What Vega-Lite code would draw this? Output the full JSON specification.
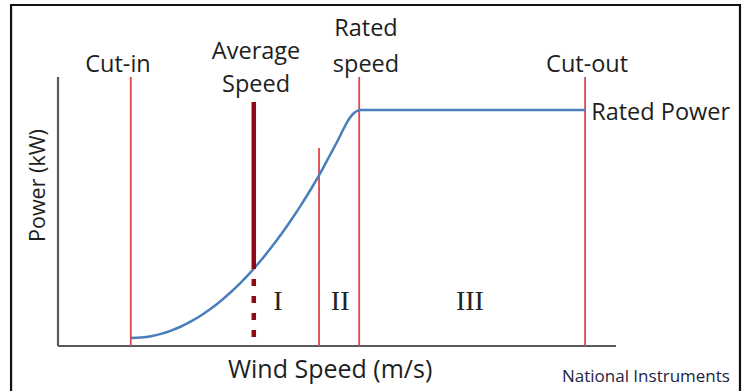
{
  "$schema": "https://vega.github.io/schema/vega-lite/v6.json",
  "width": 746,
  "height": 391,
  "autosize": "none",
  "padding": 0,
  "background": "white",
  "config": {"view": {"stroke": null}},
  "datasets": {
    "curve": [
      {"v": 2.908, "p": 67.8}, {"v": 3.307, "p": 72.0}, {"v": 3.705, "p": 83.1}, {"v": 4.104, "p": 102.5},
      {"v": 4.502, "p": 130.5}, {"v": 4.9, "p": 165.3}, {"v": 5.299, "p": 208.5}, {"v": 5.697, "p": 258.5},
      {"v": 6.096, "p": 316.9}, {"v": 6.494, "p": 383.9}, {"v": 6.892, "p": 457.6}, {"v": 7.291, "p": 539.8},
      {"v": 7.689, "p": 628.8}, {"v": 8.088, "p": 726.3}, {"v": 8.486, "p": 832.2}, {"v": 8.884, "p": 944.9},
      {"v": 9.283, "p": 1066.1}, {"v": 9.681, "p": 1194.1}, {"v": 10.08, "p": 1330.5}, {"v": 10.438, "p": 1460.2},
      {"v": 10.837, "p": 1618.6}, {"v": 11.155, "p": 1745.8}, {"v": 11.394, "p": 1847.5}, {"v": 11.594, "p": 1923.7},
      {"v": 11.753, "p": 1966.1}, {"v": 11.912, "p": 1991.5}, {"v": 12.072, "p": 2000}, {"v": 12.43, "p": 2000},
      {"v": 21.0, "p": 2000}
    ],
    "limits": [
      {"name": "Cut-in", "v": 2.9, "p": 0, "p2": 2280},
      {"name": "Region boundary", "v": 10.4, "p": 0, "p2": 1678},
      {"name": "Rated speed", "v": 12.0, "p": 0, "p2": 2280},
      {"name": "Cut-out", "v": 21.0, "p": 0, "p2": 2280}
    ],
    "axes": [
      {"v": 0, "v2": 0, "p": 0, "p2": 2280},
      {"v": 0, "v2": 22.23, "p": 0, "p2": 0}
    ],
    "frame": [{"v": -1.87, "v2": 27.17, "p": 2890, "p2": -458}],
    "avgSolid": [{"v": 7.8, "p": 2068, "p2": 653}],
    "avgDashed": [{"v": 7.8, "p": 653, "p2": 0}],
    "labels": [
      {"text": "Cut-in", "v": 2.39, "p": 2322},
      {"text": "Average", "v": 7.89, "p": 2432},
      {"text": "Speed", "v": 7.89, "p": 2153},
      {"text": "Rated", "v": 12.27, "p": 2627},
      {"text": "speed", "v": 12.27, "p": 2322},
      {"text": "Cut-out", "v": 21.08, "p": 2322}
    ],
    "ratedPower": [{"text": "Rated Power", "v": 21.24, "p": 1915}],
    "regions": [
      {"text": "I", "v": 8.76, "p": 305},
      {"text": "II", "v": 11.24, "p": 305},
      {"text": "III", "v": 16.41, "p": 305}
    ],
    "xTitle": [{"text": "Wind Speed (m/s)", "v": 10.84, "p": -271}],
    "yTitle": [{"text": "Power (kW)", "v": -0.52, "p": 1360}],
    "credit": [{"text": "National Instruments", "v": 26.77, "p": -305}]
  },
  "encoding": {
    "x": {"field": "v", "type": "quantitative", "scale": {"domain": [-2.311, 27.41], "nice": false, "zero": false}, "axis": null},
    "y": {"field": "p", "type": "quantitative", "scale": {"domain": [-381.4, 2932.2], "nice": false, "zero": false}, "axis": null}
  },
  "layer": [
    {
      "data": {"name": "frame"},
      "mark": {"type": "rect", "fill": "white", "fillOpacity": 0, "stroke": "#111111", "strokeWidth": 2.2},
      "encoding": {"x2": {"field": "v2"}, "y2": {"field": "p2"}}
    },
    {
      "data": {"name": "axes"},
      "mark": {"type": "rule", "color": "#5a5a5a", "strokeWidth": 2.2},
      "encoding": {"x2": {"field": "v2"}, "y2": {"field": "p2"}}
    },
    {
      "data": {"name": "limits"},
      "mark": {"type": "rule", "color": "#e0474c", "strokeWidth": 1.8},
      "encoding": {"y2": {"field": "p2"}}
    },
    {
      "data": {"name": "curve"},
      "mark": {"type": "line", "color": "#4a7ebb", "strokeWidth": 2.5, "interpolate": "monotone"},
      "encoding": {}
    },
    {
      "data": {"name": "avgSolid"},
      "mark": {"type": "rule", "color": "#8e0a14", "strokeWidth": 4.5},
      "encoding": {"y2": {"field": "p2"}}
    },
    {
      "data": {"name": "avgDashed"},
      "mark": {"type": "rule", "color": "#8e0a14", "strokeWidth": 4.5, "strokeDash": [7, 10], "strokeDashOffset": 7},
      "encoding": {"y2": {"field": "p2"}}
    },
    {
      "data": {"name": "labels"},
      "mark": {"type": "text", "font": "Open Sans", "fontSize": 23.5, "align": "center", "baseline": "alphabetic", "color": "#1e1e1e"},
      "encoding": {"text": {"field": "text"}}
    },
    {
      "data": {"name": "ratedPower"},
      "mark": {"type": "text", "font": "Open Sans", "fontSize": 23.5, "align": "left", "baseline": "alphabetic", "color": "#1e1e1e"},
      "encoding": {"text": {"field": "text"}}
    },
    {
      "data": {"name": "regions"},
      "mark": {"type": "text", "font": "Liberation Serif", "fontSize": 28, "align": "center", "baseline": "alphabetic", "color": "#222222"},
      "encoding": {"text": {"field": "text"}}
    },
    {
      "data": {"name": "xTitle"},
      "mark": {"type": "text", "font": "Open Sans", "fontSize": 25, "align": "center", "baseline": "alphabetic", "color": "#1e1e1e"},
      "encoding": {"text": {"field": "text"}}
    },
    {
      "data": {"name": "yTitle"},
      "mark": {"type": "text", "font": "Open Sans", "fontSize": 21.5, "align": "center", "baseline": "alphabetic", "angle": 270, "color": "#1e1e1e"},
      "encoding": {"text": {"field": "text"}}
    },
    {
      "data": {"name": "credit"},
      "mark": {"type": "text", "font": "Open Sans", "fontSize": 17, "align": "right", "baseline": "alphabetic", "color": "#1c2545"},
      "encoding": {"text": {"field": "text"}}
    }
  ]
}
